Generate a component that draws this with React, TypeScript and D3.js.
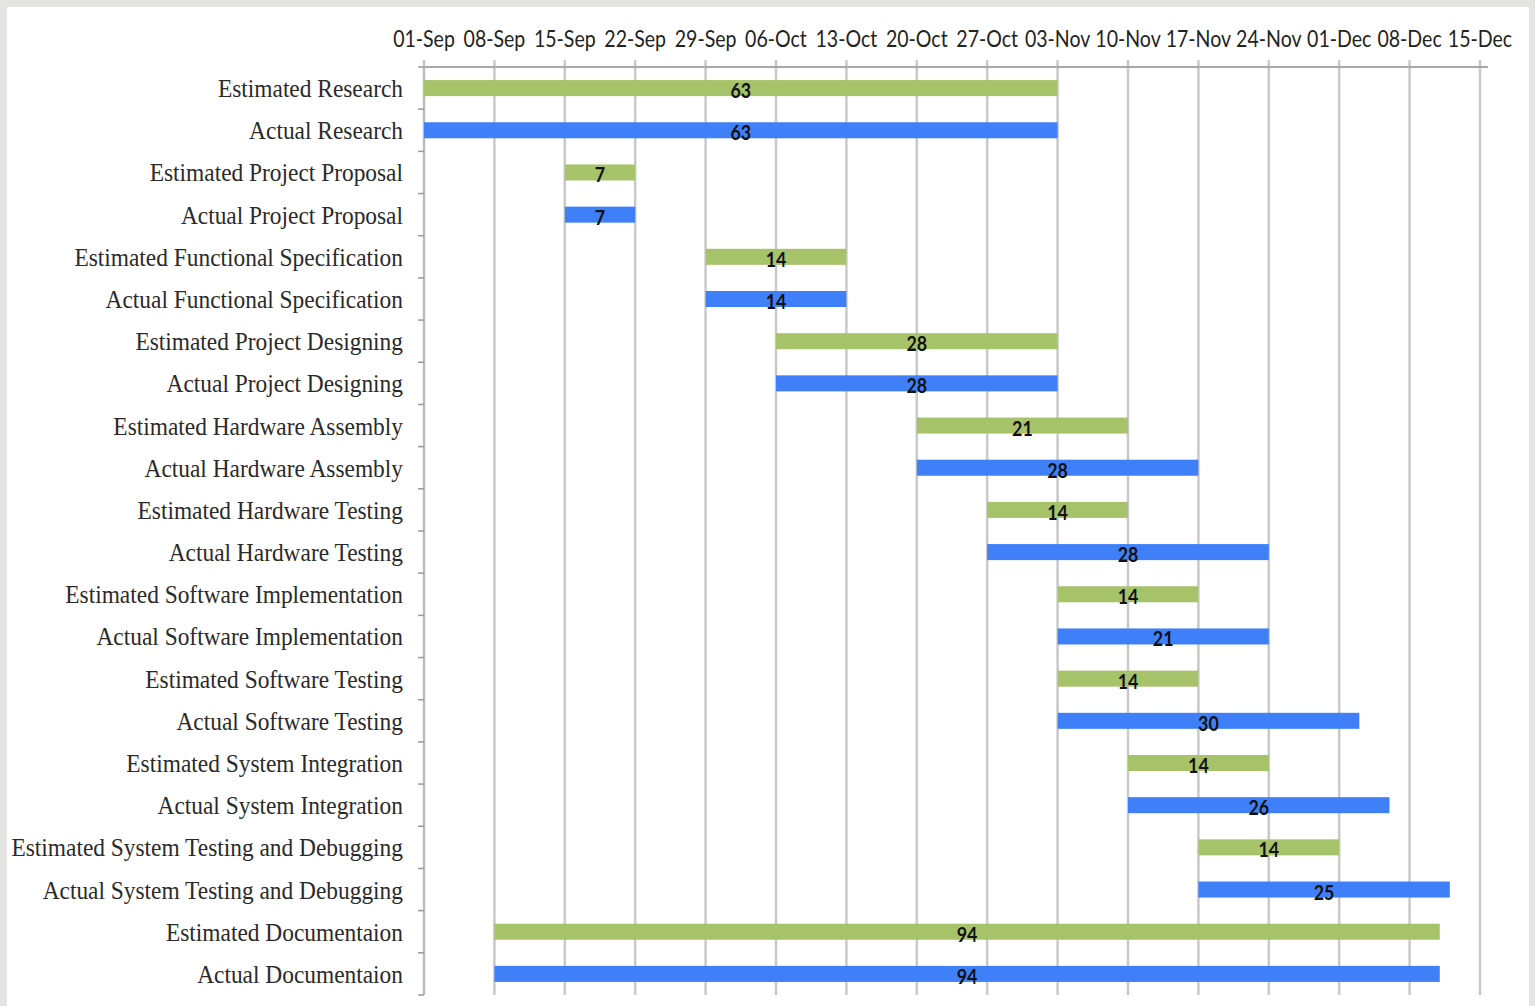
import React from "react";
import * as d3 from "d3";

// task names, top to bottom
const tasks = [
  "Estimated Research",
  "Actual Research",
  "Estimated Project Proposal",
  "Actual Project Proposal",
  "Estimated Functional Specification",
  "Actual Functional Specification",
  "Estimated Project Designing",
  "Actual Project Designing",
  "Estimated Hardware Assembly",
  "Actual Hardware Assembly",
  "Estimated Hardware Testing",
  "Actual Hardware Testing",
  "Estimated Software Implementation",
  "Actual Software Implementation",
  "Estimated Software Testing",
  "Actual Software Testing",
  "Estimated System Integration",
  "Actual System Integration",
  "Estimated System Testing and Debugging",
  "Actual System Testing and Debugging",
  "Estimated Documentaion",
  "Actual Documentaion",
];

const startDates = [
  "01-Sep", "01-Sep",
  "15-Sep", "15-Sep",
  "29-Sep", "29-Sep",
  "06-Oct", "06-Oct",
  "20-Oct", "20-Oct",
  "27-Oct", "27-Oct",
  "03-Nov", "03-Nov",
  "03-Nov", "03-Nov",
  "10-Nov", "10-Nov",
  "17-Nov", "17-Nov",
  "08-Sep", "08-Sep",
];

// duration in days
const durations = [63, 63, 7, 7, 14, 14, 28, 28, 21, 28, 14, 28, 14, 21, 14, 30, 14, 26, 14, 25, 94, 94];

const tickLabels = [
  "01-Sep", "08-Sep", "15-Sep", "22-Sep", "29-Sep", "06-Oct", "13-Oct", "20-Oct",
  "27-Oct", "03-Nov", "10-Nov", "17-Nov", "24-Nov", "01-Dec", "08-Dec", "15-Dec",
];

const YEAR = "2014";
const parse = d3.utcParse("%d-%b-%Y");
const toDate = (s: string) => parse(`${s}-${YEAR}`) as Date;

const W = 1535;
const H = 1006;
const GREEN = "#a7c36a";
const BLUE = "#3f80f8";
const GRID = "#c9c9c9";
const SANS = "Lato, 'Open Sans', sans-serif";
const SERIF = "'Liberation Serif', 'Times New Roman', serif";

export default function App() {
  const rows = tasks.map((name, i) => ({
    name,
    start: toDate(startDates[i]),
    end: d3.utcDay.offset(toDate(startDates[i]), durations[i]),
    days: durations[i],
    estimated: name.startsWith("Estimated"),
  }));

  const ticks = tickLabels.map(toDate);

  const x = d3
    .scaleUtc()
    .domain([ticks[0], ticks[ticks.length - 1]])
    .range([424, 1480]);

  const y = d3
    .scaleBand<string>()
    .domain(tasks)
    .range([67, 995])
    .paddingInner(0.62)
    .paddingOuter(0.31);

  const step = y.step();
  const plotTop = 67;
  const plotBottom = 995;
  const fmt = d3.utcFormat("%d-%b");

  return (
    <svg
      width={W}
      height={H}
      style={{ position: "absolute", left: 0, top: 0 }}
    >
      <rect x={0} y={0} width={W} height={H} fill="#e4e4e2" />
      <rect x={7} y={7} width={1522} height={H - 7} fill="#ffffff" />

      {/* vertical gridlines */}
      {ticks.map((t, i) => (
        <line
          key={`g${i}`}
          x1={x(t)}
          x2={x(t)}
          y1={60}
          y2={plotBottom}
          stroke={GRID}
          strokeWidth={2.5}
        />
      ))}

      {/* top axis line */}
      <line x1={424} x2={1488} y1={plotTop} y2={plotTop} stroke="#a8a8a8" strokeWidth={2} />

      {/* left axis with row ticks */}
      <line x1={424} x2={424} y1={plotTop} y2={plotBottom} stroke="#b5b5b5" strokeWidth={1.5} />
      {d3.range(tasks.length + 1).map((i) => (
        <line
          key={`lt${i}`}
          x1={418}
          x2={424}
          y1={plotTop + i * step}
          y2={plotTop + i * step}
          stroke="#9a9a9a"
          strokeWidth={1.5}
        />
      ))}

      {/* tick labels */}
      {ticks.map((t, i) => (
        <text
          key={`tl${i}`}
          transform={`translate(${x(t)}, 47) scale(0.85, 1)`}
          textAnchor="middle"
          fontFamily={SANS}
          fontSize={23}
          fill="#222"
        >
          {fmt(t)}
        </text>
      ))}

      {/* bars */}
      {rows.map((r) => (
        <rect
          key={`b${r.name}`}
          x={x(r.start)}
          y={y(r.name)}
          width={x(r.end) - x(r.start)}
          height={y.bandwidth()}
          fill={r.estimated ? GREEN : BLUE}
        />
      ))}

      {/* duration labels */}
      {rows.map((r) => (
        <text
          key={`v${r.name}`}
          transform={`translate(${(x(r.start) + x(r.end)) / 2}, ${(y(r.name) as number) + y.bandwidth() / 2 + 10}) scale(0.85, 1)`}
          textAnchor="middle"
          fontFamily={SANS}
          fontWeight="bold"
          fontSize={21}
          fill="#111"
        >
          {r.days}
        </text>
      ))}

      {/* category labels */}
      {rows.map((r) => (
        <text
          key={`c${r.name}`}
          transform={`translate(403, ${(y(r.name) as number) + y.bandwidth() / 2 + 9}) scale(0.9, 1)`}
          textAnchor="end"
          fontFamily={SERIF}
          fontSize={26}
          fill="#2a2a2a"
        >
          {r.name}
        </text>
      ))}
    </svg>
  );
}
